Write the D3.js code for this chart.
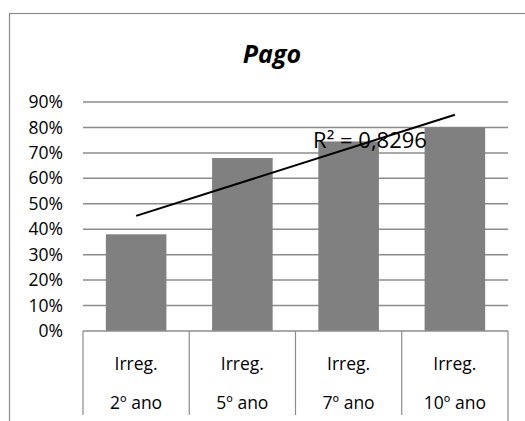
<!DOCTYPE html>
<html><head><meta charset="utf-8">
<script src="https://cdn.jsdelivr.net/npm/d3@7"></script>
<style>body{margin:0;background:#fff}svg{display:block}</style>
</head><body>
<svg id="c" width="525" height="421"></svg>
<script>
const categoriesTop = ["Irreg.", "Irreg.", "Irreg.", "Irreg."];
const categoriesBottom = ["2º ano", "5º ano", "7º ano", "10º ano"];
const values = [0.38, 0.68, 0.745, 0.80];
const yTicks = [0, 0.1, 0.2, 0.3, 0.4, 0.5, 0.6, 0.7, 0.8, 0.9];
const title = "Pago";
const r2Label = "R² = 0,8296";

const svg = d3.select("#c");
const font = "'Open Sans', sans-serif";
const L = 83, R = 508, T = 102, B = 331;

svg.append("rect").attr("x", 9.5).attr("y", 13.5).attr("width", 530).attr("height", 430)
  .attr("fill", "#fff").attr("stroke", "#8c8c8c").attr("stroke-width", 1.2);

const x = d3.scaleBand().domain(d3.range(values.length)).range([L, R]).paddingInner(0.43).paddingOuter(0.215);
const xb = d3.scaleBand().domain(d3.range(values.length)).range([L, R]);
const y = d3.scaleLinear().domain([0, 0.9]).range([B, T]);

// gridlines
svg.append("g").selectAll("line").data(yTicks.filter(d => d > 0)).join("line")
  .attr("x1", L).attr("x2", R).attr("y1", d => y(d)).attr("y2", d => y(d))
  .attr("stroke", "#8c8c8c").attr("stroke-width", 1.5);

// y axis labels
const yAxis = d3.axisLeft(y).tickValues(yTicks).tickFormat(d3.format(".0%")).tickSize(0).tickPadding(0);
const ga = svg.append("g").attr("transform", `translate(63,0)`).call(yAxis);
ga.select(".domain").remove();
ga.selectAll("text").attr("font-family", font).attr("font-size", 17.5).attr("fill", "#000");

// bars
svg.append("g").selectAll("rect").data(values).join("rect")
  .attr("x", (d, i) => x(i)).attr("width", x.bandwidth())
  .attr("y", d => y(d)).attr("height", d => y(0) - y(d))
  .attr("fill", "#808080");

// category box
svg.append("line").attr("x1", L).attr("x2", R).attr("y1", B).attr("y2", B)
  .attr("stroke", "#8c8c8c").attr("stroke-width", 1.5);
const seps = d3.range(values.length + 1).map(i => i < values.length ? xb(i) : R);
svg.append("g").selectAll("line").data(seps).join("line")
  .attr("x1", d => d).attr("x2", d => d).attr("y1", B).attr("y2", (d, i) => i === values.length ? 421 : 415)
  .attr("stroke", "#8c8c8c").attr("stroke-width", 1.2);

svg.append("g").selectAll("text").data(categoriesTop).join("text")
  .attr("x", (d, i) => xb(i) + xb.bandwidth() / 2).attr("y", 363)
  .attr("text-anchor", "middle").attr("dominant-baseline", "central")
  .attr("font-family", font).attr("font-size", 17.5).text(d => d);
svg.append("g").selectAll("text").data(categoriesBottom).join("text")
  .attr("x", (d, i) => xb(i) + xb.bandwidth() / 2).attr("y", 402)
  .attr("text-anchor", "middle").attr("dominant-baseline", "central")
  .attr("font-family", font).attr("font-size", 17.5).text(d => d);

// linear trendline (least squares)
const xs = values.map((d, i) => i + 1);
const mx = d3.mean(xs), my = d3.mean(values);
const slope = d3.sum(xs, (xi, i) => (xi - mx) * (values[i] - my)) / d3.sum(xs, xi => (xi - mx) ** 2);
const icpt = my - slope * mx;
const cx = i => xb(i) + xb.bandwidth() / 2;
svg.append("line")
  .attr("x1", cx(0)).attr("y1", y(icpt + slope * 1))
  .attr("x2", cx(values.length - 1)).attr("y2", y(icpt + slope * values.length))
  .attr("stroke", "#000").attr("stroke-width", 2);

svg.append("text").attr("x", 370).attr("y", 139).attr("text-anchor", "middle")
  .attr("dominant-baseline", "central").attr("font-family", font).attr("font-size", 22)
  .text(r2Label);

svg.append("text").attr("x", 272).attr("y", 53).attr("text-anchor", "middle")
  .attr("dominant-baseline", "central").attr("font-family", font).attr("font-size", 25)
  .attr("font-weight", "bold").attr("font-style", "italic").text(title);
</script>
</body></html>
